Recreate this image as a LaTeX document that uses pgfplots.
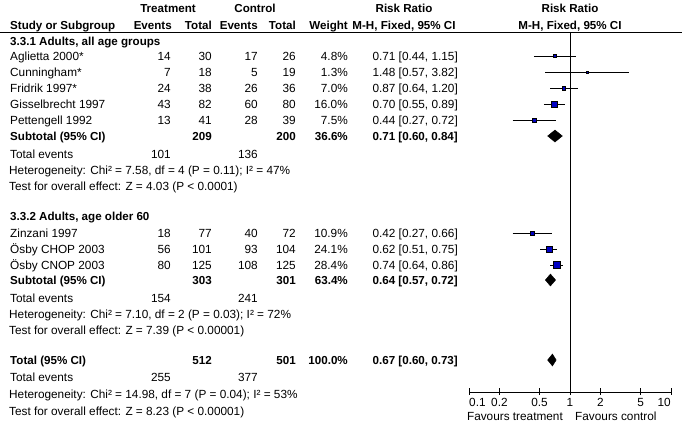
\documentclass[border=0pt]{standalone}
\usepackage{fontspec}
\setmainfont{Liberation Sans}
\usepackage{pgfplots}
\pgfplotsset{compat=1.18}
\definecolor{rrblue}{RGB}{0,0,195}
\newcommand{\fs}{\fontsize{11.8}{14}\selectfont}
\newcommand{\fb}{\fontsize{11.6}{14}\selectfont\bfseries}
\newcommand{\Lt}[3]{\node[anchor=base west,inner sep=0pt,font=\fs] at (#1,#2+4.5) {#3};}
\newcommand{\Rt}[3]{\node[anchor=base east,inner sep=0pt,font=\fs] at (#1,#2+4.5) {#3};}
\newcommand{\Lb}[3]{\node[anchor=base west,inner sep=0pt,font=\fb] at (#1,#2+4.5) {#3};}
\newcommand{\Rb}[3]{\node[anchor=base east,inner sep=0pt,font=\fb] at (#1,#2+4.5) {#3};}
\newcommand{\Cb}[3]{\node[anchor=base,inner sep=0pt,font=\fb] at (#1,#2+4.5) {#3};}
\newcommand{\Study}[8]{\Lt{10}{#1}{#2}\Rt{171}{#1}{#3}\Rt{212}{#1}{#4}\Rt{258}{#1}{#5}\Rt{296}{#1}{#6}\Rt{348}{#1}{#7}\Rt{458}{#1}{#8}}
\begin{document}
\begin{tikzpicture}
\useasboundingbox (0pt,-432pt) rectangle (682pt,0pt);
\fill[white] (0pt,-432pt) rectangle (682pt,0pt);
\begin{scope}[x=1pt,y=-1pt]
% headers
\Cb{168}{8}{Treatment}
\Cb{255}{8}{Control}
\Cb{404}{8}{Risk Ratio}
\Cb{570}{8}{Risk Ratio}
\Lb{10}{25}{Study or Subgroup}
\Rb{172}{25}{Events}
\Rb{212}{25}{Total}
\Rb{258}{25}{Events}
\Rb{296}{25}{Total}
\Rb{348}{25}{Weight}
\Cb{404}{25}{M-H, Fixed, 95\% CI}
\Cb{570}{25}{M-H, Fixed, 95\% CI}
\draw[line width=1pt] (0,32) -- (682,32);
% group 1
\Lb{10}{41}{3.3.1 Adults, all age groups}
\Study{56}{Aglietta 2000*}{14}{30}{17}{26}{4.8\%}{0.71 [0.44, 1.15]}
\Study{72}{Cunningham*}{7}{18}{5}{19}{1.3\%}{1.48 [0.57, 3.82]}
\Study{88}{Fridrik 1997*}{24}{38}{26}{36}{7.0\%}{0.87 [0.64, 1.20]}
\Study{104}{Gisselbrecht 1997}{43}{82}{60}{80}{16.0\%}{0.70 [0.55, 0.89]}
\Study{120}{Pettengell 1992}{13}{41}{28}{39}{7.5\%}{0.44 [0.27, 0.72]}
\Lb{10}{136}{Subtotal (95\% CI)}
\Rb{212}{136}{209}\Rb{296}{136}{200}\Rb{348}{136}{36.6\%}\Rb{458}{136}{0.71 [0.60, 0.84]}
\Lt{10}{154}{Total events}\Rt{171}{154}{101}\Rt{258}{154}{136}
\Lt{9}{170}{Heterogeneity: Chi² = 7.58, df = 4 (P = 0.11); I² = 47\%}
\Lt{9}{186}{Test for overall effect: Z = 4.03 (P < 0.0001)}
% group 2
\Lb{10}{216}{3.3.2 Adults, age older 60}
\Study{233}{Zinzani 1997}{18}{77}{40}{72}{10.9\%}{0.42 [0.27, 0.66]}
\Study{249}{Ösby CHOP 2003}{56}{101}{93}{104}{24.1\%}{0.62 [0.51, 0.75]}
\Study{265}{Ösby CNOP 2003}{80}{125}{108}{125}{28.4\%}{0.74 [0.64, 0.86]}
\Lb{10}{280}{Subtotal (95\% CI)}
\Rb{212}{280}{303}\Rb{296}{280}{301}\Rb{348}{280}{63.4\%}\Rb{458}{280}{0.64 [0.57, 0.72]}
\Lt{10}{298}{Total events}\Rt{171}{298}{154}\Rt{258}{298}{241}
\Lt{9}{314}{Heterogeneity: Chi² = 7.10, df = 2 (P = 0.03); I² = 72\%}
\Lt{9}{330}{Test for overall effect: Z = 7.39 (P < 0.00001)}
% total
\Lb{10}{360}{Total (95\% CI)}
\Rb{212}{360}{512}\Rb{296}{360}{501}\Rb{348}{360}{100.0\%}\Rb{458}{360}{0.67 [0.60, 0.73]}
\Lt{10}{377}{Total events}\Rt{171}{377}{255}\Rt{258}{377}{377}
\Lt{9}{394}{Heterogeneity: Chi² = 14.98, df = 7 (P = 0.04); I² = 53\%}
\Lt{9}{411}{Test for overall effect: Z = 8.23 (P < 0.00001)}
% favours
\Rt{563}{416}{Favours treatment}
\Lt{575}{416}{Favours control}
\end{scope}
\begin{axis}[at={(469pt,-392pt)}, anchor=south west, scale only axis,
  width=202pt, height=360pt, xmode=log, xmin=0.1, xmax=10,
  ymin=32, ymax=392, y dir=reverse, axis x line=none, axis y line=none, clip=false,
  ]
\addplot[black, line width=1pt] coordinates {(1,32) (1,392)};
% x axis
\addplot[black, line width=1pt] coordinates {(0.1,392) (10,392)};
% CIs
\addplot[black, line width=1pt] coordinates {(0.44,56) (1.15,56)};
\addplot[black, line width=1pt] coordinates {(0.57,72) (3.82,72)};
\addplot[black, line width=1pt] coordinates {(0.64,88) (1.20,88)};
\addplot[black, line width=1pt] coordinates {(0.55,104) (0.89,104)};
\addplot[black, line width=1pt] coordinates {(0.27,120) (0.72,120)};
\addplot[black, line width=1pt] coordinates {(0.27,233) (0.66,233)};
\addplot[black, line width=1pt] coordinates {(0.51,249) (0.75,249)};
\addplot[black, line width=1pt] coordinates {(0.64,265) (0.86,265)};
% squares
\addplot[only marks, mark=square*, mark size=1.5pt, mark options={draw=none, fill=rrblue}] coordinates {(0.71,56)};
\addplot[only marks, mark=square*, mark size=0.9pt, mark options={draw=none, fill=rrblue}] coordinates {(1.48,72)};
\addplot[only marks, mark=square*, mark size=1.8pt, mark options={draw=none, fill=rrblue}] coordinates {(0.87,88)};
\addplot[only marks, mark=square*, mark size=2.7pt, mark options={draw=none, fill=rrblue}] coordinates {(0.70,104)};
\addplot[only marks, mark=square*, mark size=1.9pt, mark options={draw=none, fill=rrblue}] coordinates {(0.44,120)};
\addplot[only marks, mark=square*, mark size=2.2pt, mark options={draw=none, fill=rrblue}] coordinates {(0.42,233)};
\addplot[only marks, mark=square*, mark size=3.3pt, mark options={draw=none, fill=rrblue}] coordinates {(0.62,249)};
\addplot[only marks, mark=square*, mark size=3.6pt, mark options={draw=none, fill=rrblue}] coordinates {(0.74,265)};
% diamonds
\addplot[fill=black, draw=black] coordinates {(0.60,136) (0.71,130) (0.84,136) (0.71,142)} -- cycle;
\addplot[fill=black, draw=black] coordinates {(0.57,280) (0.64,274) (0.72,280) (0.64,286)} -- cycle;
\addplot[fill=black, draw=black] coordinates {(0.60,360) (0.67,354) (0.73,360) (0.67,366)} -- cycle;
% ticks
\addplot[black, line width=1pt] coordinates {(0.1,388) (0.1,395)};
\addplot[black, line width=1pt] coordinates {(0.2,388) (0.2,395)};
\addplot[black, line width=1pt] coordinates {(0.5,388) (0.5,395)};
\addplot[black, line width=1pt] coordinates {(1,388) (1,395)};
\addplot[black, line width=1pt] coordinates {(2,388) (2,395)};
\addplot[black, line width=1pt] coordinates {(5,388) (5,395)};
\addplot[black, line width=1pt] coordinates {(10,388) (10,395)};
\node[anchor=base west, inner sep=0pt, font=\fs] at (axis cs:0.1,406.5) {0.1};
\node[anchor=base, inner sep=0pt, font=\fs] at (axis cs:0.2,406.5) {0.2};
\node[anchor=base, inner sep=0pt, font=\fs] at (axis cs:0.5,406.5) {0.5};
\node[anchor=base, inner sep=0pt, font=\fs] at (axis cs:1,406.5) {1};
\node[anchor=base, inner sep=0pt, font=\fs] at (axis cs:2,406.5) {2};
\node[anchor=base, inner sep=0pt, font=\fs] at (axis cs:5,406.5) {5};
\node[anchor=base east, inner sep=0pt, font=\fs] at (axis cs:10,406.5) {10};
\end{axis}
\end{tikzpicture}
\end{document}
